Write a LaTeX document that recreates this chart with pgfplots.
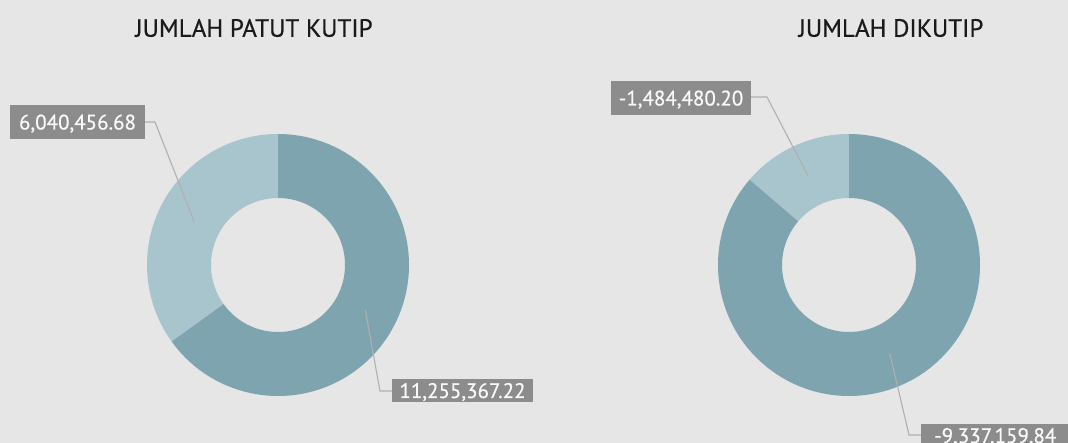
\documentclass[border=0pt]{standalone}
\usepackage{pgfplots}
\usepackage{pgfplotstable}
\pgfplotsset{compat=1.18}
\usepackage{fontspec}
\setmainfont{PT Sans}
\newfontfamily\lblfont[FakeBold=0.6]{PT Sans}
\definecolor{bg}{RGB}{230,230,230}
\definecolor{darkseg}{RGB}{126,164,176}
\definecolor{lightseg}{RGB}{168,196,204}
\definecolor{boxgray}{RGB}{140,140,140}
\definecolor{leadergray}{RGB}{176,176,176}
\definecolor{titlecol}{RGB}{26,26,26}

\pgfplotstableread{
segment value
patut1 6040456.68
patut2 11255367.22
}\patut
\pgfplotstableread{
segment value
dikutip1 -1484480.20
dikutip2 -9337159.84
}\dikutip

\newcommand\PX[2]{(axis cs:#1,{443-#2})}
% cx, cy (px), start angle, end angle, colour
\newcommand\donutwedge[5]{%
  \fill[#5] ([shift={(#3:131bp)}]axis cs:#1,{443-#2})
    arc[start angle=#3, end angle=#4, radius=131bp]
    -- ([shift={(#4:67bp)}]axis cs:#1,{443-#2})
    arc[start angle=#4, end angle=#3, radius=67bp] -- cycle;}

\tikzset{
  lbl/.style={fill=boxgray, text=white!95!gray, font=\lblfont\fontsize{21bp}{21bp}\selectfont,
    inner xsep=0pt, inner ysep=0pt, text height=15bp, text depth=0bp, align=center},
  leader/.style={draw=leadergray, line width=1.1bp},
  ttl/.style={text=titlecol, font=\lblfont\fontsize{25bp}{25bp}\selectfont}
}

\begin{document}%
\begin{tikzpicture}
\pgfplotstablegetelem{0}{value}\of\patut \edef\pa{\pgfplotsretval}
\pgfplotstablegetelem{1}{value}\of\patut \edef\pb{\pgfplotsretval}
\pgfplotstablegetelem{0}{value}\of\dikutip \edef\da{\pgfplotsretval}
\pgfplotstablegetelem{1}{value}\of\dikutip \edef\db{\pgfplotsretval}
\edef\splitP{\fpeval{90+360*abs(\pa)/(abs(\pa)+abs(\pb))}}
\edef\splitD{\fpeval{90+360*abs(\da)/(abs(\da)+abs(\db))}}
\edef\midPa{\fpeval{(90+\splitP)/2}}
\edef\midPb{\fpeval{(\splitP+450)/2}}
\edef\midDa{\fpeval{(90+\splitD)/2}}
\edef\midDb{\fpeval{(\splitD+450)/2}}
\begin{axis}[width=1068bp, height=443bp, scale only axis,
  xmin=0, xmax=1068, ymin=0, ymax=443, hide axis, clip=false]
  \coordinate (BL) at (axis cs:0,0);
  \coordinate (TR) at (axis cs:1068,443);
  \fill[bg] (axis cs:0,0) rectangle (axis cs:1068,443);
  % donut 1
  \donutwedge{278}{265}{90}{\splitP}{lightseg}
  \donutwedge{278}{265}{\splitP}{450}{darkseg}
  % donut 2
  \donutwedge{849}{265}{90}{\splitD}{lightseg}
  \donutwedge{849}{265}{\splitD}{450}{darkseg}
  % leaders
  \draw[leader] \PX{145}{122} -- \PX{155}{122} -- ([shift={(\midPa:94bp)}]axis cs:278,{443-265});
  \draw[leader] \PX{392}{391} -- \PX{380}{391} -- ([shift={(\midPb:98bp)}]axis cs:278,{443-265});
  \draw[leader] \PX{751}{97} -- \PX{767}{97} -- ([shift={(\midDa:98bp)}]axis cs:849,{443-265});
  \draw[leader] \PX{921}{435} -- \PX{909}{435} -- ([shift={(\midDb:98bp)}]axis cs:849,{443-265});
  % labels
  \node[lbl, minimum width=135bp, minimum height=34bp] at \PX{77.5}{122} {6,040,456.68};
  \node[lbl, minimum width=141bp, minimum height=23bp] at \PX{462.5}{390.5} {11,255,367.22};
  \node[lbl, minimum width=140bp, minimum height=34bp] at \PX{681}{98} {-1,484,480.20};
  \node[lbl, minimum width=148bp, minimum height=23bp, anchor=west] at \PX{921}{435.5} {-9,337,159.84};
  % titles
  \node[ttl] at \PX{254}{28} {JUMLAH PATUT KUTIP};
  \node[ttl] at \PX{891}{28} {JUMLAH DIKUTIP};
\end{axis}
\pgfresetboundingbox
\path[use as bounding box] (BL) rectangle (TR);
\end{tikzpicture}%
\end{document}
